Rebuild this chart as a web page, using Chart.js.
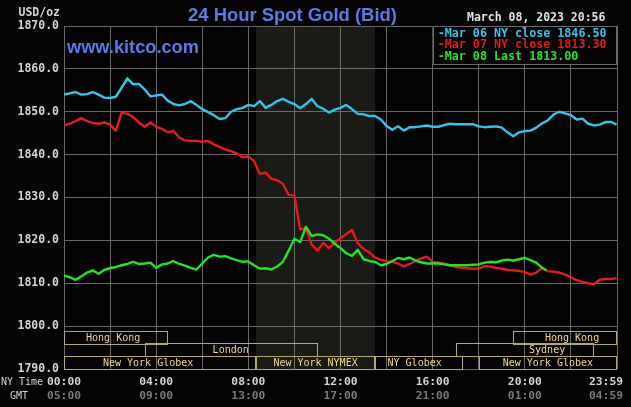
<!DOCTYPE html>
<html><head><meta charset="utf-8">
<script src="https://cdn.jsdelivr.net/npm/chart.js@4"></script>
<style>html,body{margin:0;padding:0;background:#040404;}canvas{display:block}</style>
</head><body>
<canvas id="c" width="631" height="407"></canvas>
<script>
// ---- data ----
const times = [
"00:00","00:15","00:30","00:45","01:00","01:15","01:30","01:45",
"02:00","02:15","02:30","02:45","03:00","03:15","03:30","03:45",
"04:00","04:15","04:30","04:45","05:00","05:15","05:30","05:45",
"06:00","06:15","06:30","06:45","07:00","07:15","07:30","07:45",
"08:00","08:15","08:30","08:45","09:00","09:15","09:30","09:45",
"10:00","10:15","10:30","10:45","11:00","11:15","11:30","11:45",
"12:00","12:15","12:30","12:45","13:00","13:15","13:30","13:45",
"14:00","14:15","14:30","14:45","15:00","15:15","15:30","15:45",
"16:00","16:15","16:30","16:45","17:00","17:15","17:30","17:45",
"18:00","18:15","18:30","18:45","19:00","19:15","19:30","19:45",
"20:00","20:15","20:30","20:45","21:00","21:15","21:30","21:45",
"22:00","22:15","22:30","22:45","23:00","23:15","23:30","23:45","23:59"];

const mar06 = [
1854.0,1854.3,1854.6,1854.0, 1854.1,1854.6,1854.0,1853.3,
1853.2,1853.5,1855.6,1857.8, 1856.4,1856.5,1855.2,1853.6,
1853.8,1854.0,1852.6,1851.8, 1851.5,1851.8,1852.5,1851.6,
1850.6,1849.9,1849.2,1848.3, 1848.5,1850.0,1850.6,1850.9,
1851.6,1851.3,1852.5,1850.9, 1851.6,1852.5,1853.0,1852.3,
1851.8,1850.8,1851.8,1853.0, 1851.3,1850.7,1849.8,1850.5,
1850.9,1851.6,1850.6,1849.5, 1849.4,1849.0,1849.0,1848.2,
1846.7,1845.8,1846.6,1845.6, 1846.4,1846.4,1846.6,1846.8,
1846.5,1846.5,1846.9,1847.2, 1847.1,1847.1,1847.1,1847.1,
1846.6,1846.4,1846.5,1846.6, 1846.3,1845.2,1844.3,1845.2,
1845.5,1845.6,1846.3,1847.3, 1848.0,1849.4,1850.0,1849.6,
1849.2,1848.2,1848.4,1847.2, 1846.8,1847.0,1847.6,1847.6, 1847.0];

const mar07 = [
1846.8,1847.2,1847.8,1848.5, 1847.8,1847.4,1847.2,1847.5,
1847.0,1845.6,1849.8,1849.5, 1848.8,1847.5,1846.5,1847.5,
1846.5,1846.0,1845.2,1845.5, 1844.0,1843.3,1843.2,1843.2,
1843.0,1843.2,1842.4,1841.8, 1841.2,1840.8,1840.3,1839.4,
1839.6,1838.5,1835.5,1835.8, 1834.4,1834.0,1833.2,1830.6,
1830.5,1822.6,1822.8,1819.0, 1817.6,1819.4,1818.2,1819.5,
1820.5,1821.5,1822.4,1819.3, 1818.0,1817.2,1816.0,1815.5,
1815.1,1815.0,1814.6,1813.9, 1814.5,1815.2,1815.8,1816.2,
1815.0,1814.8,1814.6,1814.2, 1813.8,1813.6,1813.5,1813.4,
1813.4,1814.0,1813.9,1813.6, 1813.4,1813.1,1813.0,1812.9,
1812.6,1812.0,1812.5,1813.6, 1812.8,1812.7,1812.5,1812.0,
1811.4,1810.7,1810.3,1810.0, 1809.8,1810.8,1811.0,1811.0, 1811.2];

const mar08Times = times.slice(0, 84).concat(["20:56"]);
const mar08 = [
1811.8,1811.4,1810.8,1811.6, 1812.5,1813.0,1812.2,1813.1,
1813.5,1813.8,1814.2,1814.5, 1815.0,1814.5,1814.6,1814.8,
1813.6,1814.4,1814.6,1815.2, 1814.5,1814.1,1813.6,1813.2,
1814.6,1816.0,1816.6,1816.2, 1816.3,1815.8,1815.4,1815.0,
1815.1,1814.2,1813.4,1813.5, 1813.2,1813.9,1815.0,1817.6,
1820.4,1819.6,1823.2,1821.0, 1821.4,1821.2,1820.4,1819.2,
1818.2,1817.0,1816.4,1817.8, 1815.6,1815.2,1815.0,1814.2,
1814.5,1815.2,1815.9,1815.6, 1816.0,1815.3,1814.9,1814.6,
1814.6,1814.6,1814.4,1814.2, 1814.2,1814.2,1814.2,1814.3,
1814.4,1814.8,1815.0,1814.9, 1815.3,1815.5,1815.3,1815.6,
1815.9,1815.4,1814.8,1813.6, 1813.0];

const legendLabels = ["Mar 06 NY close 1846.50", "Mar 07 NY close 1813.30", "Mar 08 Last 1813.00"];
const nyTickLabels  = ["00:00","04:00","08:00","12:00","16:00","20:00","23:59"];
const gmtTickLabels = ["05:00","09:00","13:00","17:00","21:00","01:00","04:59"];
const titleText = "24 Hour Spot Gold (Bid)";
const siteText = "www.kitco.com";
const stampText = "March 08, 2023 20:56";
const nymexStart = "08:20", nymexEnd = "13:30";
const sessions = [
  {label:"Hong Kong",       start:"00:00", end:"04:30", row:0, mid:"02:08"},
  {label:"Hong Kong",       start:"19:30", end:"24:00", row:0, mid:"22:03"},
  {label:"London",          start:"03:30", end:"11:00", row:1, mid:"07:14"},
  {label:"Sydney",          start:"17:00", end:"23:00", row:1, mid:"20:58"},
  {label:"New York Globex", start:"00:00", end:"08:20", row:2, mid:"03:39"},
  {label:"New York NYMEX",  start:"08:20", end:"13:30", row:2, mid:"10:55"},
  {label:"NY Globex",       start:"13:30", end:"17:20", row:2, mid:"15:13"},
  {label:"New York Globex", start:"18:00", end:"24:00", row:2, mid:"21:00"}
];

// ---- helpers ----
const toMin = t => { const [h,m] = t.split(":").map(Number); return h*60+m; };
const pts = (ts, vs) => ts.map((t,i) => ({x: toMin(t), y: vs[i]}));

const COL_CYAN = '#34c3ea', COL_RED = '#e21b1b', COL_GREEN = '#26e226';
const GRID = '#6a6a6a', BG = '#040404', SHADE = '#1a1a17';
const MONO = '"DejaVu Sans Mono", monospace';

function fitFont(ctx, text, weight, family, width) {
  ctx.font = `${weight} 20px ${family}`;
  return 20 * width / ctx.measureText(text).width;
}

const deco = {
  id: 'deco',
  beforeDraw(chart) {
    const {ctx, chartArea: a, scales: {x}} = chart;
    ctx.save();
    ctx.fillStyle = BG;
    ctx.fillRect(0, 0, chart.width, chart.height);
    const s0 = x.getPixelForValue(toMin(nymexStart)), s1 = x.getPixelForValue(toMin(nymexEnd));
    ctx.fillStyle = SHADE;
    ctx.fillRect(s0, a.top, s1 - s0, a.bottom - a.top);
    ctx.restore();
  },
  afterDatasetsDraw(chart) {
    const {ctx, chartArea: a, scales: {x}} = chart;
    ctx.save();
    const rowH = 12.8;
    const top0 = a.bottom - 3 * rowH;
    ctx.strokeStyle = '#b3a77a';
    ctx.lineWidth = 1;
    ctx.font = `10px ${MONO}`;
    ctx.textAlign = 'center';
    ctx.textBaseline = 'middle';
    sessions.forEach(s => {
      const x0 = x.getPixelForValue(toMin(s.start));
      const x1 = x.getPixelForValue(toMin(s.end));
      const y0 = top0 + s.row * rowH;
      ctx.strokeRect(Math.round(x0) + 0.5, Math.round(y0) + 0.5, Math.round(x1 - x0) - 1, Math.round(rowH));
    });
    ctx.fillStyle = '#f2d68c';
    sessions.forEach(s => {
      const y0 = top0 + s.row * rowH;
      ctx.fillText(s.label, x.getPixelForValue(toMin(s.mid)), y0 + rowH / 2 + 1);
    });
    ctx.restore();
  },
  afterDraw(chart) {
    const {ctx, chartArea: a, scales: {x}} = chart;
    ctx.save();
    // legend box
    const lx = x.getPixelForValue(toMin("16:00"));
    ctx.fillStyle = BG;
    ctx.fillRect(lx, a.top, a.right - lx, 38);
    ctx.strokeStyle = GRID;
    ctx.lineWidth = 1;
    ctx.strokeRect(Math.round(lx) + 0.5, a.top + 0.5, Math.round(a.right - lx) - 1, 38);
    ctx.font = `bold 11.7px ${MONO}`;
    ctx.textAlign = 'left';
    ctx.textBaseline = 'alphabetic';
    [COL_CYAN, COL_RED, COL_GREEN].forEach((c, i) => {
      ctx.fillStyle = c;
      ctx.fillText('-' + legendLabels[i], lx + 5, a.top + 10.5 + i * 11.8);
    });
    // timestamp
    ctx.fillStyle = '#e2e2e2';
    ctx.font = `bold 11.5px ${MONO}`;
    ctx.fillText(stampText, 467, 21);
    // title & site
    ctx.fillStyle = '#5a7ae6';
    const tf = fitFont(ctx, titleText, 'bold', '"Liberation Sans", Arial, sans-serif', 209);
    ctx.font = `bold ${tf}px "Liberation Sans", Arial, sans-serif`;
    ctx.fillText(titleText, 188, 21);
    const sf = fitFont(ctx, siteText, 'bold', '"Liberation Sans", Arial, sans-serif', 132);
    ctx.font = `bold ${sf}px "Liberation Sans", Arial, sans-serif`;
    ctx.fillText(siteText, 67, 53);
    // USD/oz
    ctx.fillStyle = '#d4d4d4';
    ctx.font = `bold 11.5px ${MONO}`;
    ctx.textAlign = 'right';
    ctx.fillText('USD/oz', 60, 16);
    // x tick labels
    ctx.textAlign = 'center';
    nyTickLabels.forEach((t, i) => {
      let px = x.getPixelForValue(toMin(t));
      ctx.font = `bold 11.3px ${MONO}`;
      const w = ctx.measureText(t).width;
      if (px + w / 2 > chart.width - 8) px = chart.width - 8 - w / 2;
      ctx.fillStyle = '#d4d4d4';
      ctx.fillText(t, px, 385);
      ctx.fillStyle = '#7a7a7a';
      ctx.fillText(gmtTickLabels[i], px, 399);
    });
    ctx.textAlign = 'left';
    ctx.font = `10px ${MONO}`;
    ctx.fillStyle = '#d4d4d4';
    ctx.fillText('NY Time', 1, 385);
    ctx.fillText('GMT', 10, 399);
    ctx.restore();
  }
};

new Chart(document.getElementById('c'), {
  type: 'line',
  data: {
    datasets: [
      {label: legendLabels[2], data: pts(mar08Times, mar08), borderColor: COL_GREEN, order: 1},
      {label: legendLabels[1], data: pts(times, mar07), borderColor: COL_RED, order: 2},
      {label: legendLabels[0], data: pts(times, mar06), borderColor: COL_CYAN, order: 3}
    ]
  },
  options: {
    responsive: false,
    animation: false,
    devicePixelRatio: 1,
    layout: {padding: {left: 0, right: 14, top: 26, bottom: 0}},
    plugins: {legend: {display: false}, tooltip: {enabled: false}, title: {display: false}},
    elements: {point: {radius: 0}, line: {borderWidth: 2.4, tension: 0, borderJoinStyle: 'round'}},
    scales: {
      x: {
        type: 'linear', min: 0, max: 1440,
        ticks: {stepSize: 120, display: false},
        grid: {color: GRID, drawTicks: false, lineWidth: 1},
        border: {display: false},
        afterFit(s) { s.height = 38; }
      },
      y: {
        min: 1790, max: 1870,
        ticks: {stepSize: 10, callback: v => v.toFixed(1), color: '#d4d4d4', padding: 5,
                font: {family: 'DejaVu Sans Mono', weight: 'bold', size: 11.5}},
        grid: {color: GRID, drawTicks: false, lineWidth: 1},
        border: {display: false},
        afterFit(s) { s.width = 64; }
      }
    }
  },
  plugins: [deco]
});
</script>
</body></html>
